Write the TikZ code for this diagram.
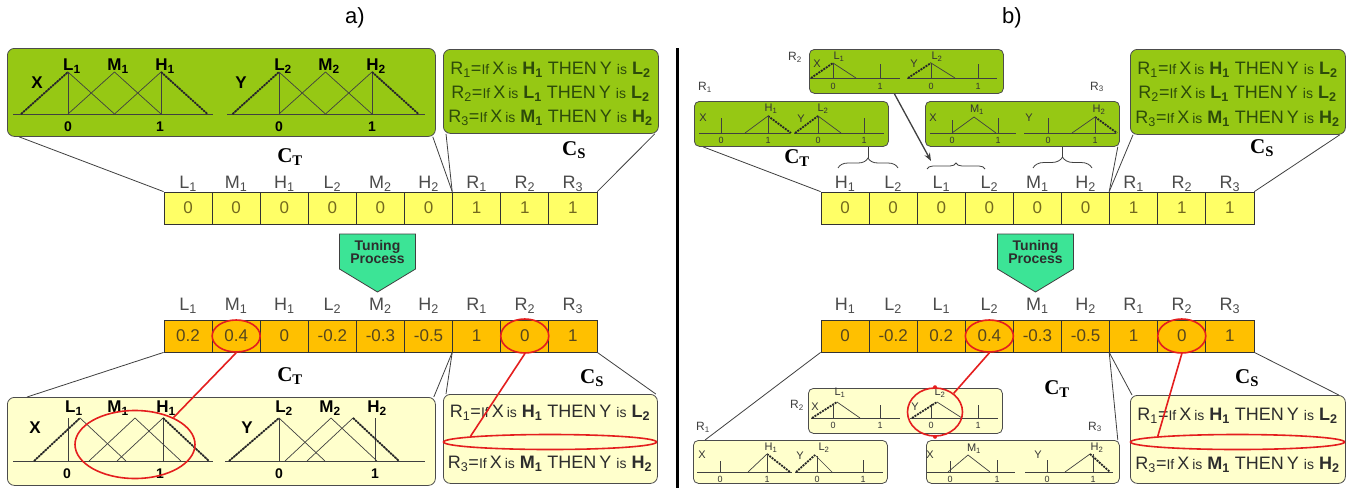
\documentclass[tikz,border=0pt]{standalone}
\usepackage{fontspec}
\setmainfont{Liberation Sans}
\newfontfamily\serf{Liberation Serif}
\usetikzlibrary{arrows.meta,decorations.pathreplacing,shapes.geometric}
\definecolor{gfill}{RGB}{150,200,20}
\definecolor{pyel}{RGB}{255,255,204}
\definecolor{cyel}{RGB}{255,255,102}
\definecolor{corg}{RGB}{255,192,0}
\definecolor{tun}{RGB}{60,228,150}
\definecolor{rred}{RGB}{228,30,30}
\definecolor{gtxt}{RGB}{45,75,10}
\definecolor{dtxt}{RGB}{45,45,45}
\definecolor{ctxt}{RGB}{115,105,30}
\definecolor{otxt}{RGB}{85,70,30}
\definecolor{ltxt}{RGB}{75,75,75}
\newcommand\fs[1]{\fontsize{#1}{#1}\selectfont}
\newcommand\ssub[2]{#1\textsubscript{#2}}
\newcommand\rtext[3]{\fs{18}R\textsubscript{#1}={\fs{14}If}\,X\,{\fs{14}is} \textbf{#2} THEN\,Y {\fs{14}is} \textbf{#3}}
\newcommand\tri[5]{\draw[mf] (#1,#4) -- (#2,#5) -- (#3,#4);}
\newcommand\CT{{\serf\bfseries\fs{21}C\textsubscript{T}}}
\newcommand\CS{{\serf\bfseries\fs{21}C\textsubscript{S}}}
\tikzset{
  gbox/.style={draw=black!70, fill=gfill, rounded corners=7pt, line width=0.8pt, inner sep=0pt, anchor=north west},
  ybox/.style={draw=black!70, fill=pyel, rounded corners=7pt, line width=0.8pt, inner sep=0pt, anchor=north west},
  sgbox/.style={gbox, rounded corners=5pt},
  sybox/.style={ybox, rounded corners=5pt},
  ycell/.style={draw=black!80, fill=cyel, line width=0.8pt, minimum width=48.1pt, minimum height=32pt, inner sep=0pt, text=ctxt, font=\fs{17}},
  ocell/.style={ycell, fill=corg, text=otxt},
  alab/.style={text=ltxt, font=\fs{18}, inner sep=0pt},
  mf/.style={draw=black!75, line width=0.7pt},
  mfthick/.style={draw=black!85, line width=1.8pt, dash pattern=on 2pt off 1pt},
  conn/.style={draw=black!75, line width=0.8pt},
  redring/.style={draw=rred, ellipse, line width=1.6pt, inner sep=0pt},
  redl/.style={draw=rred, line width=1.6pt},
  bl/.style={font=\bfseries\fs{17}, inner sep=0pt},
  bt/.style={font=\bfseries\fs{14}, inner sep=0pt},
  sl/.style={font=\fs{11}, inner sep=0pt, text=black!80},
  st/.style={font=\fs{9}, inner sep=0pt, text=black!80},
  rlab/.style={font=\fs{12}, inner sep=0pt, text=black!75},
  gtext/.style={text=gtxt, inner sep=0pt},
  dtext/.style={text=dtxt, inner sep=0pt},
  tunst/.style={draw=black!75, fill=tun, line width=0.8pt},
}
\begin{document}
\begin{tikzpicture}[x=1pt,y=-1pt]
\useasboundingbox (0,0) rectangle (1364,488);
\fill[white] (0,0) rectangle (1364,488);
% titles and divider
\node[font=\fs{22}] (tita) at (355,18) {a)};
\node[font=\fs{22}] (titb) at (1012,18) {b)};
\coordinate (dv1) at (677,48);
\coordinate (dv2) at (677,488);
\draw[line width=3pt] (dv1) -- (dv2);

% ================= PART a) =================
% top MF panel
\node[gbox, minimum width=428pt, minimum height=88pt] (TLa) at (7,48) {};
\draw[mf] (13,114) -- (213,114);
\draw[mf] (227,114) -- (425,114);
\tri{21}{68}{114.5}{114}{72}
\tri{68}{114.5}{161}{114}{72}
\tri{114.5}{161}{207.5}{114}{72}
\draw[mf] (68,114) -- (68,72);
\draw[mf] (161,114) -- (161,72);
\draw[mfthick] (21,114) -- (68,72);
\draw[mfthick] (161,72) -- (207.5,114);
\tri{232.5}{279}{325.5}{114}{72}
\tri{279}{325.5}{372}{114}{72}
\tri{325.5}{372}{418.5}{114}{72}
\draw[mf] (279,114) -- (279,72);
\draw[mf] (372,114) -- (372,72);
\draw[mfthick] (232.5,114) -- (279,72);
\draw[mfthick] (372,72) -- (418.5,114);
\node[bl] (tx) at (37,83) {X};
\node[bl] (ty) at (241,83) {Y};
\node[bl] (tl1) at (72,66) {\ssub{L}{1}};
\node[bl] (tm1) at (118,66) {\ssub{M}{1}};
\node[bl] (th1) at (165,66) {\ssub{H}{1}};
\node[bl] (tl2) at (283,66) {\ssub{L}{2}};
\node[bl] (tm2) at (329,66) {\ssub{M}{2}};
\node[bl] (th2) at (376,66) {\ssub{H}{2}};
\node[bt] (t0a) at (68,127) {0};
\node[bt] (t1a) at (160,127) {1};
\node[bt] (t0b) at (279,127) {0};
\node[bt] (t1b) at (372,127) {1};
% top rule box
\node[gbox, minimum width=215pt, minimum height=84pt] (RTa) at (443,49) {};
\node[gtext] (ra1) at (550.5,70) {\rtext{1}{\ssub{H}{1}}{\ssub{L}{2}}};
\node[gtext] (ra2) at (550.5,94) {\rtext{2}{\ssub{L}{1}}{\ssub{L}{2}}};
\node[gtext] (ra3) at (550.5,118) {\rtext{3}{\ssub{M}{1}}{\ssub{H}{2}}};
\node (cta) at (290,157) {\CT};
\node (csa) at (574,150) {\CS};
% top array
\foreach \v [count=\i] in {0,0,0,0,0,0,1,1,1}
  \node[ycell] (TA\i) at ({164+(\i-0.5)*48.1},208) {\v};
\foreach \l [count=\i] in {{\ssub{L}{1}},{\ssub{M}{1}},{\ssub{H}{1}},{\ssub{L}{2}},{\ssub{M}{2}},{\ssub{H}{2}},{\ssub{R}{1}},{\ssub{R}{2}},{\ssub{R}{3}}}
  \node[alab] (TAl\i) at ({164+(\i-0.5)*48.1},184) {\l};
\draw[conn] ([xshift=12pt]TLa.south west) -- (TA1.north west);
\draw[conn] ([xshift=-3pt]TLa.south east) -- (TA7.north west);
\draw[conn] ([xshift=3pt]RTa.south west) -- (TA7.north west);
\draw[conn] ([xshift=-4pt]RTa.south east) -- (TA9.north east);
% tuning
\draw[tunst] (339.5,234) -- (415.5,234) -- (415.5,269) -- (377.5,292) -- (339.5,269) -- cycle;
\node[align=center, font=\bfseries\fs{14}, text=dtxt, inner sep=0pt] (tuna) at (377.5,252) {Tuning\\[-1pt]Process};
% bottom array
\foreach \v [count=\i] in {0.2,0.4,0,-0.2,-0.3,-0.5,1,0,1}
  \node[ocell] (BA\i) at ({164+(\i-0.5)*48.1},336) {\v};
\foreach \l [count=\i] in {{\ssub{L}{1}},{\ssub{M}{1}},{\ssub{H}{1}},{\ssub{L}{2}},{\ssub{M}{2}},{\ssub{H}{2}},{\ssub{R}{1}},{\ssub{R}{2}},{\ssub{R}{3}}}
  \node[alab] (BAl\i) at ({164+(\i-0.5)*48.1},306) {\l};
\node (ctb) at (290,376) {\CT};
\node (csb) at (592,378) {\CS};
% bottom MF panel
\node[ybox, minimum width=428pt, minimum height=88pt] (BLa) at (7,397) {};
\draw[mf] (13,461) -- (213,461);
\draw[mf] (225,461) -- (425,461);
\tri{34}{80}{126}{461}{418}
\tri{89}{135}{181}{461}{418}
\tri{117}{163}{209}{461}{418}
\draw[mf] (68,461) -- (68,418);
\draw[mf] (163,461) -- (163,418);
\draw[mfthick] (34,461) -- (80,418);
\draw[mfthick] (163,418) -- (209,461);
\tri{229}{279}{325}{461}{418}
\tri{285}{331}{377}{461}{418}
\tri{307}{353}{399}{461}{418}
\draw[mf] (279,461) -- (279,418);
\draw[mf] (375,461) -- (375,418);
\draw[mfthick] (229,461) -- (279,418);
\draw[mfthick] (353,418) -- (399,461);
\node[bl] (bx) at (35,428) {X};
\node[bl] (by) at (247,428) {Y};
\node[bl] (bl1) at (74,408) {\ssub{L}{1}};
\node[bl] (bm1) at (118,408) {\ssub{M}{1}};
\node[bl] (bh1) at (166,408) {\ssub{H}{1}};
\node[bl] (bl2) at (284,408) {\ssub{L}{2}};
\node[bl] (bm2) at (330,408) {\ssub{M}{2}};
\node[bl] (bh2) at (377,408) {\ssub{H}{2}};
\node[bt] (b0a) at (67,474) {0};
\node[bt] (b1a) at (160,474) {1};
\node[bt] (b0b) at (279,474) {0};
\node[bt] (b1b) at (375,474) {1};
% bottom rule box
\node[ybox, minimum width=214pt, minimum height=89pt] (RBa) at (443,394) {};
\node[dtext] (rb1) at (550,413) {\rtext{1}{\ssub{H}{1}}{\ssub{L}{2}}};
\node[dtext] (rb3) at (550,464) {\rtext{3}{\ssub{M}{1}}{\ssub{H}{2}}};
\draw[conn] (BA1.south west) -- ([xshift=20pt]BLa.north west);
\draw[conn] (BA7.south west) -- ([xshift=-2pt]BLa.north east);
\draw[conn] (BA7.south west) -- ([xshift=3pt]RBa.north west);
\draw[conn] (BA9.south east) -- ([xshift=-2pt]RBa.north east);
% red marks a)
\node[redring, minimum width=48pt, minimum height=32pt] (ea1) at (BA2) {};
\node[redring, minimum width=120pt, minimum height=68pt] (ea2) at (135,444.5) {};
\draw[redl] (ea1.south) -- (ea2.35);
\node[redring, minimum width=48pt, minimum height=34pt] (ea3) at (BA8) {};
\node[redring, minimum width=213pt, minimum height=15pt] (ea4) at (550,442) {};
\draw[redl] (ea3.south) -- (ea4.176);

% ================= PART b) =================
% top small boxes
\node[sgbox, minimum width=194pt, minimum height=44pt] (bR2) at (809,49) {};
\node[sgbox, minimum width=194pt, minimum height=45pt] (bR1) at (694,101) {};
\node[sgbox, minimum width=194pt, minimum height=45pt] (bR3) at (925,101) {};
\node[rlab] (lR2) at (795,57) {\ssub{R}{2}};
\node[rlab] (lR1) at (705,87) {\ssub{R}{1}};
\node[rlab] (lR3) at (1097,87) {\ssub{R}{3}};
% R2 top content
\draw[mf] (810,78) -- (900,78);
\draw[mf] (907,78) -- (997,78);
\draw[mfthick] (811,78) -- (833,63);
\draw[mf] (833,63) -- (856,78);
\draw[mf] (833,78) -- (833,63);
\draw[mf] (880,78) -- (880,64);
\draw[mfthick] (908,78) -- (931,63);
\draw[mf] (931,63) -- (955,78);
\draw[mf] (931,78) -- (931,63);
\draw[mf] (978,78) -- (978,64);
\node[sl] at (817,64) {X};
\node[sl] at (839,57) {\ssub{L}{1}};
\node[sl] at (914,64) {Y};
\node[sl] at (937,57) {\ssub{L}{2}};
\node[st] at (833,86) {0};
\node[st] at (880,86) {1};
\node[st] at (931,86) {0};
\node[st] at (978,86) {1};
% R1 top content
\draw[mf] (699,133) -- (790,133);
\draw[mf] (794,133) -- (884,133);
\draw[mf] (721,133) -- (721,118);
\draw[mf] (745,133) -- (768,116);
\draw[mfthick] (768,116) -- (791,133);
\draw[mf] (768,133) -- (768,116);
\draw[mfthick] (795,133) -- (818,116);
\draw[mf] (818,116) -- (841,133);
\draw[mf] (818,133) -- (818,116);
\draw[mf] (864,133) -- (864,118);
\node[sl] at (703,118) {X};
\node[sl] at (771,109) {\ssub{H}{1}};
\node[sl] at (801,119) {Y};
\node[sl] at (823,109) {\ssub{L}{2}};
\node[st] at (721,140) {0};
\node[st] at (768,140) {1};
\node[st] at (818,140) {0};
\node[st] at (864,140) {1};
% R3 top content
\draw[mf] (930,133) -- (1016,133);
\draw[mf] (1024,133) -- (1116,133);
\draw[mf] (952,133) -- (952,120);
\tri{952}{974}{996}{133}{117}
\draw[mf] (998,133) -- (998,118);
\draw[mf] (1048,133) -- (1048,118);
\draw[mf] (1072,133) -- (1095,117);
\draw[mfthick] (1095,117) -- (1117,133);
\draw[mf] (1095,133) -- (1095,117);
\node[sl] at (933,118) {X};
\node[sl] at (977,110) {\ssub{M}{1}};
\node[sl] at (1029,118) {Y};
\node[sl] at (1099,110) {\ssub{H}{2}};
\node[st] at (952,140) {0};
\node[st] at (998,140) {1};
\node[st] at (1048,140) {0};
\node[st] at (1095,140) {1};
% top rule box b
\node[gbox, minimum width=215pt, minimum height=85pt] (RTb) at (1130,49) {};
\node[gtext] (rc1) at (1237.5,70) {\rtext{1}{\ssub{H}{1}}{\ssub{L}{2}}};
\node[gtext] (rc2) at (1237.5,94) {\rtext{2}{\ssub{L}{1}}{\ssub{L}{2}}};
\node[gtext] (rc3) at (1237.5,119) {\rtext{3}{\ssub{M}{1}}{\ssub{H}{2}}};
\node (ctc) at (797,158) {\CT};
\node (csc) at (1262,148) {\CS};
% top array b
\foreach \v [count=\i] in {0,0,0,0,0,0,1,1,1}
  \node[ycell] (TB\i) at ({821+(\i-0.5)*48.1},208) {\v};
\foreach \l [count=\i] in {{\ssub{H}{1}},{\ssub{L}{2}},{\ssub{L}{1}},{\ssub{L}{2}},{\ssub{M}{1}},{\ssub{H}{2}},{\ssub{R}{1}},{\ssub{R}{2}},{\ssub{R}{3}}}
  \node[alab] (TBl\i) at ({821+(\i-0.5)*48.1},184) {\l};
% braces
\coordinate (br1a) at (838,168);
\coordinate (br1b) at (898,168);
\coordinate (br2a) at (927,169);
\coordinate (br2b) at (985,169);
\coordinate (br3a) at (1033,168);
\coordinate (br3b) at (1092,168);
\draw[conn, decorate, decoration={brace, amplitude=10pt}] (br1a) -- (br1b);
\draw[conn, decorate, decoration={brace, amplitude=6pt}] (br2a) -- (br2b);
\draw[conn, decorate, decoration={brace, amplitude=11pt}] (br3a) -- (br3b);
\coordinate (bt1) at (868,158);
\coordinate (bt3) at (1062.5,157);
\coordinate (bt2) at (931,161);
\draw[conn] (bt1) -- (bR1.south -| bt1);
\draw[conn] (bt3) -- (bR3.south -| bt3);
\draw[conn, line width=1.3pt, -{Stealth[length=8pt,width=6pt]}] ([xshift=-12pt]bR2.south) -- (bt2);
% connectors top b
\draw[conn] ([xshift=9pt]bR1.south west) -- (TB1.north west);
\draw[conn] ([xshift=-2pt]bR3.south east) -- (TB7.north west);
\draw[conn] ([xshift=3pt]RTb.south west) -- (TB7.north west);
\draw[conn] ([xshift=-6pt]RTb.south east) -- (TB9.north east);
% tuning b
\draw[tunst] (997.5,234) -- (1073.5,234) -- (1073.5,269) -- (1035.5,292) -- (997.5,269) -- cycle;
\node[align=center, font=\bfseries\fs{14}, text=dtxt, inner sep=0pt] (tunb) at (1035.5,252) {Tuning\\[-1pt]Process};
% bottom array b
\foreach \v [count=\i] in {0,-0.2,0.2,0.4,-0.3,-0.5,1,0,1}
  \node[ocell] (BB\i) at ({821+(\i-0.5)*48.1},336) {\v};
\foreach \l [count=\i] in {{\ssub{H}{1}},{\ssub{L}{2}},{\ssub{L}{1}},{\ssub{L}{2}},{\ssub{M}{1}},{\ssub{H}{2}},{\ssub{R}{1}},{\ssub{R}{2}},{\ssub{R}{3}}}
  \node[alab] (BBl\i) at ({821+(\i-0.5)*48.1},306) {\l};
\node (ctd) at (1057,389) {\CT};
\node (csd) at (1247,378) {\CS};
% bottom small boxes
\node[sybox, minimum width=194pt, minimum height=45pt] (cR2) at (808,388) {};
\node[sybox, minimum width=194pt, minimum height=43pt] (cR1) at (693,440) {};
\node[sybox, minimum width=193pt, minimum height=43pt] (cR3) at (926,440) {};
\node[rlab] (mR2) at (797,405) {\ssub{R}{2}};
\node[rlab] (mR1) at (703,427) {\ssub{R}{1}};
\node[rlab] (mR3) at (1095,427) {\ssub{R}{3}};
% R2 bottom content
\draw[mf] (811,418) -- (900,418);
\draw[mf] (910,418) -- (998,418);
\draw[mfthick] (812,418) -- (837,402);
\draw[mf] (837,402) -- (860,418);
\draw[mf] (833,418) -- (833,404);
\draw[mf] (880,418) -- (880,405);
\draw[mfthick] (912,418) -- (937,402);
\draw[mf] (937,402) -- (962,418);
\draw[mf] (931,418) -- (931,404);
\draw[mf] (978,418) -- (978,405);
\node[sl] at (815,407) {X};
\node[sl] at (840,393) {\ssub{L}{1}};
\node[sl] at (915,407) {Y};
\node[sl] at (940,393) {\ssub{L}{2}};
\node[st] at (833,425) {0};
\node[st] at (880,425) {1};
\node[st] at (931,425) {0};
\node[st] at (978,425) {1};
% R1 bottom content
\draw[mf] (697,472) -- (792,472);
\draw[mf] (795,472) -- (883,472);
\draw[mf] (720,472) -- (720,461);
\draw[mf] (748,472) -- (767,454);
\draw[mfthick] (767,454) -- (790,472);
\draw[mf] (767,472) -- (767,454);
\draw[mfthick] (796,472) -- (815,455);
\draw[mf] (815,455) -- (832,472);
\draw[mf] (817,472) -- (817,456);
\draw[mf] (863,472) -- (863,460);
\node[sl] at (702,455) {X};
\node[sl] at (771,448) {\ssub{H}{1}};
\node[sl] at (800,456) {Y};
\node[sl] at (824,448) {\ssub{L}{2}};
\node[st] at (720,479) {0};
\node[st] at (767,479) {1};
\node[st] at (817,479) {0};
\node[st] at (863,479) {1};
% R3 bottom content
\draw[mf] (927,472) -- (1015,472);
\draw[mf] (1025,472) -- (1113,472);
\draw[mf] (950,472) -- (950,461);
\tri{948}{968}{990}{472}{455}
\draw[mf] (997,472) -- (997,460);
\draw[mf] (1047,472) -- (1047,460);
\draw[mf] (1065,472) -- (1090,454);
\draw[mfthick] (1090,454) -- (1110,472);
\draw[mf] (1093,472) -- (1093,454);
\node[sl] at (930,455) {X};
\node[sl] at (974,449) {\ssub{M}{1}};
\node[sl] at (1038,455) {Y};
\node[sl] at (1097,448) {\ssub{H}{2}};
\node[st] at (950,479) {0};
\node[st] at (997,479) {1};
\node[st] at (1047,479) {0};
\node[st] at (1093,479) {1};
% bottom rule box b
\node[ybox, minimum width=215pt, minimum height=88pt] (RBb) at (1130,395) {};
\node[dtext] (rd1) at (1237.5,416) {\rtext{1}{\ssub{H}{1}}{\ssub{L}{2}}};
\node[dtext] (rd3) at (1237.5,465) {\rtext{3}{\ssub{M}{1}}{\ssub{H}{2}}};
% connectors bottom b
\draw[conn] (BB1.south west) -- ([xshift=12pt]cR1.north west);
\draw[conn] (BB7.south west) -- ([xshift=-2pt]cR3.north east);
\draw[conn] (BB7.south west) -- ([xshift=2pt]RBb.north west);
\draw[conn] (BB9.south east) -- ([xshift=-7pt]RBb.north east);
% red marks b)
\node[redring, minimum width=48pt, minimum height=32pt] (eb1) at (BB4) {};
\node[redring, minimum width=55pt, minimum height=48pt] (eb2) at (935,412) {};
\draw[redl] (eb1.south) -- (eb2.45);
\fill[rred] (eb2.north) circle (2pt);
\fill[rred] (eb2.south) circle (2pt);
\node[redring, minimum width=48pt, minimum height=34pt] (eb3) at (BB8) {};
\node[redring, minimum width=214pt, minimum height=15pt] (eb4) at (1237.5,442) {};
\draw[redl] (eb3.south) -- (eb4.176);
\end{tikzpicture}
\end{document}
